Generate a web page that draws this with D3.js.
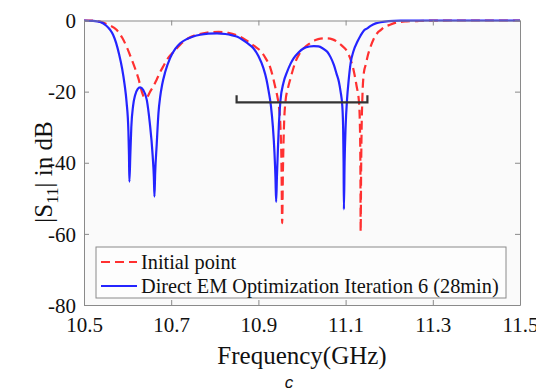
<!DOCTYPE html>
<html><head><meta charset="utf-8">
<script src="https://cdn.jsdelivr.net/npm/d3@7"></script>
<style>body{margin:0;background:#fff}svg{display:block}</style>
</head><body>
<svg id="chart" width="536" height="392"></svg>
<script>
// ---- data ----
const xTicks = [10.5, 10.7, 10.9, 11.1, 11.3, 11.5];
const yTicks = [0, -20, -40, -60, -80];
const seriesNames = ["Initial point", "Direct EM Optimization Iteration 6 (28min)"];

const freqInitial = [10.5,10.5253,10.5368,10.5552,10.5752,10.5874,10.5982,10.6080,10.6172,10.6253,10.6326,10.6391,10.6448,10.6517,10.6593,10.6671,10.6747,10.6823,10.6931,10.7053,10.7207,10.7391,10.7591,10.7828,10.8087,10.8310,10.8471,10.8586,10.8724,10.8862,10.8954,10.9046,10.9161,10.9276,10.9345,10.9391,10.9437,10.9467,10.9506,10.9529,10.9545,10.9563,10.9586,10.9621,10.9678,10.9736,10.9851,10.9943,11.0041,11.0172,11.0310,11.0425,11.0579,11.0701,11.0809,11.0908,11.1039,11.1115,11.1191,11.1253,11.1306,11.1329,11.1340,11.1345,11.1356,11.1368,11.1384,11.1421,11.1460,11.1517,11.1575,11.1644,11.1729,11.1805,11.1880,11.1995,11.2189,11.2402,11.2648,11.2954,11.3414,11.5];
const s11Initial = [0,-0.05,-0.3,-1.2,-2.7,-4.8,-7.5,-10.5,-13.5,-16.5,-20,-21.7,-21.5,-20,-18.5,-16.5,-14.5,-12.8,-10.5,-8.8,-6.8,-5,-4,-3.4,-3.2,-3.5,-4,-4.6,-5.6,-6.8,-7.6,-8.5,-10.5,-13.4,-16.5,-19,-21.5,-23.8,-30,-40,-57,-42,-30,-22.8,-19,-16.3,-11.6,-9.3,-7.8,-6.5,-5.5,-5.1,-5,-5.3,-6,-7,-8.8,-11,-14.4,-18.5,-22.8,-30,-42,-59.4,-42,-30,-22,-14.5,-12.5,-9.5,-7.3,-5.2,-3.5,-2.7,-1.9,-1.3,-0.5,-0.25,-0.15,-0.05,0,0];

const freqDirect = [10.5,10.518,10.537,10.5506,10.5598,10.5667,10.5736,10.5805,10.5874,10.5931,10.5977,10.6018,10.6032,10.6041,10.6062,10.6085,10.6126,10.6172,10.6230,10.6287,10.6356,10.6441,10.6506,10.6575,10.6602,10.6616,10.6632,10.6667,10.6708,10.6747,10.6793,10.6862,10.6977,10.7092,10.7207,10.7345,10.7506,10.7667,10.7851,10.8051,10.8241,10.8402,10.8517,10.8655,10.8770,10.8885,10.9000,10.9115,10.9184,10.9237,10.9287,10.9333,10.9368,10.9391,10.9407,10.9425,10.9448,10.9471,10.9506,10.9575,10.9660,10.9736,10.9811,10.9920,11.0041,11.0172,11.0271,11.0379,11.0471,11.0579,11.0655,11.0731,11.0793,11.0846,11.0885,11.0924,11.0943,11.0954,11.0961,11.0977,11.1000,11.1034,11.1069,11.1115,11.1184,11.1269,11.1345,11.1421,11.1499,11.1575,11.1690,11.1805,11.1989,11.2264,11.2954,11.5];
const s11Direct = [0,-0.1,-0.4,-1.4,-2.6,-4,-6.3,-9.5,-13.5,-18,-23,-31,-38,-45.3,-38,-30,-24,-21,-19.3,-18.8,-19.5,-22.4,-28.5,-38,-44,-49.5,-43,-35,-26,-21.5,-18,-14.5,-10.5,-8,-6.4,-5.3,-4.5,-4,-3.7,-3.6,-3.8,-4.2,-4.6,-5.6,-6.6,-7.8,-10,-13.4,-16.5,-20,-24,-30,-37,-44,-51,-44,-36,-29,-22.5,-17.5,-14.4,-12.2,-10.6,-9,-7.8,-7.3,-7.2,-7.3,-7.8,-8.8,-10.3,-12.5,-15,-17.2,-20,-24,-30,-40,-53.1,-40,-30,-22,-17,-12,-8.5,-6,-4.2,-2.8,-2.2,-1.5,-0.8,-0.5,-0.2,-0.05,0,0];

const bracketFreq = [10.85, 11.15];
const bracketLevel = -23;
const bracketTip = -21;

// ---- layout ----
const svg = d3.select("#chart");
const m = {left: 84, right: 520, top: 20.5, bottom: 305};
const x = d3.scaleLinear().domain([10.5, 11.5]).range([m.left, m.right]);
const y = d3.scaleLinear().domain([-80, 0]).range([m.bottom, m.top]);
const serif = "'Liberation Serif','Times New Roman',serif";
const axisCol = "#8a8a8a";

svg.append("rect").attr("x", m.left).attr("y", m.top)
  .attr("width", m.right - m.left).attr("height", m.bottom - m.top).attr("fill", "#fafafa");

svg.append("clipPath").attr("id", "clip").append("rect")
  .attr("x", m.left).attr("y", m.top - 2).attr("width", m.right - m.left).attr("height", m.bottom - m.top + 2);

const line = d3.line().x(d => x(d[0])).y(d => y(d[1])).curve(d3.curveMonotoneX);
const g = svg.append("g").attr("clip-path", "url(#clip)");

g.append("path").datum(freqInitial.map((f, i) => [f, s11Initial[i]]))
  .attr("d", line).attr("fill", "none").attr("stroke", "#ff3030")
  .attr("stroke-width", 2.2).attr("stroke-dasharray", "9,5");
g.append("path").datum(freqDirect.map((f, i) => [f, s11Direct[i]]))
  .attr("d", line).attr("fill", "none").attr("stroke", "#2424ff")
  .attr("stroke-width", 2.2);

// bracket
const bracket = [[bracketFreq[0], bracketTip], [bracketFreq[0], bracketLevel], [bracketFreq[1], bracketLevel], [bracketFreq[1], bracketTip]];
svg.append("path").datum(bracket).attr("d", d3.line().x(d => x(d[0])).y(d => y(d[1])))
  .attr("fill", "none").attr("stroke", "#333").attr("stroke-width", 2.2);

// axes
const xb = svg.append("g").attr("transform", `translate(0,${m.bottom})`)
  .call(d3.axisBottom(x).tickValues(xTicks).tickSizeInner(-5).tickSizeOuter(0).tickPadding(12).tickFormat(d3.format(".1f")));
const xt = svg.append("g").attr("transform", `translate(0,${m.top})`)
  .call(d3.axisTop(x).tickValues(xTicks).tickSizeInner(-5).tickSizeOuter(0).tickFormat(""));
const yl = svg.append("g").attr("transform", `translate(${m.left},0)`)
  .call(d3.axisLeft(y).tickValues(yTicks).tickSizeInner(-5).tickSizeOuter(0).tickPadding(8).tickFormat(d => String(d)));
const yr = svg.append("g").attr("transform", `translate(${m.right},0)`)
  .call(d3.axisRight(y).tickValues(yTicks).tickSizeInner(-5).tickSizeOuter(0).tickFormat(""));
[xb, xt, yl, yr].forEach(a => {
  a.selectAll("path,line").attr("stroke", axisCol);
  a.selectAll("text").attr("font-family", serif).attr("font-size", 21).attr("fill", "#111");
});
xb.selectAll("text").attr("dy", "0.71em");
yl.selectAll("text").attr("dy", "0.34em");

// legend
const lg = svg.append("g");
lg.append("rect").attr("x", 96).attr("y", 247).attr("width", 410).attr("height", 51)
  .attr("fill", "#fdfdfd").attr("stroke", "#8a8a8a").attr("stroke-width", 1);
const legendStyles = [{c: "#ff3030", d: "9,5"}, {c: "#2424ff", d: null}];
seriesNames.forEach((name, i) => {
  const yy = 262 + i * 24;
  lg.append("line").attr("x1", 101).attr("x2", 137).attr("y1", yy).attr("y2", yy)
    .attr("stroke", legendStyles[i].c).attr("stroke-width", 2.2)
    .attr("stroke-dasharray", legendStyles[i].d);
  lg.append("text").attr("x", 141).attr("y", yy).attr("dy", "0.34em")
    .attr("font-family", serif).attr("font-size", 20.3).attr("fill", "#111").text(name);
});

// axis labels
svg.append("text").attr("x", 302).attr("y", 364).attr("text-anchor", "middle")
  .attr("font-family", serif).attr("font-size", 25).attr("fill", "#111").text("Frequency(GHz)");
const ylab = svg.append("text").attr("transform", `translate(52,172) rotate(-90)`)
  .attr("text-anchor", "middle").attr("font-family", serif).attr("font-size", 25).attr("fill", "#111");
ylab.append("tspan").text("|S");
ylab.append("tspan").attr("font-size", 17).attr("dy", 6).text("11");
ylab.append("tspan").attr("dy", -6).text("| in dB");

svg.append("text").attr("x", 289).attr("y", 388).attr("text-anchor", "middle")
  .attr("font-family", "'Liberation Sans',Arial,sans-serif").attr("font-style", "italic")
  .attr("font-size", 17).attr("fill", "#111").text("c");
</script>
</body></html>
